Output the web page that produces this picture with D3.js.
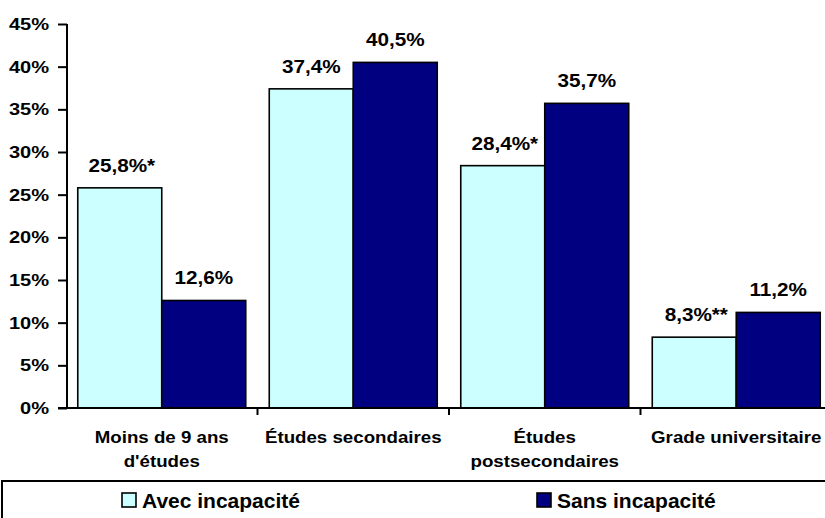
<!DOCTYPE html>
<html><head><meta charset="utf-8">
<script src="https://cdn.jsdelivr.net/npm/d3@7"></script>
<style>html,body{margin:0;padding:0;background:#fff;overflow:hidden}</style>
</head><body>
<svg id="c" width="825" height="518"></svg>
<script>
const categories = [["Moins de 9 ans","d'études"],["Études secondaires"],["Études","postsecondaires"],["Grade universitaire"]];
const seriesNames = ["Avec incapacité","Sans incapacité"];
const avecValues = [25.8, 37.4, 28.4, 8.3];
const sansValues = [12.6, 40.5, 35.7, 11.2];
const avecLabels = ["25,8%*","37,4%","28,4%*","8,3%**"];
const sansLabels = ["12,6%","40,5%","35,7%","11,2%"];
const yTicks = [0,5,10,15,20,25,30,35,40,45];
const colors = ["#CCFFFF","#000080"];

(function(){
const svg = d3.select("#c");
const FONT = "'Liberation Sans', Arial, sans-serif";
const pLeft = 67, pRight = 832, pTop = 24, pBottom = 408;
const catKeys = categories.map((c,i)=>i);
const x0 = d3.scaleBand().domain(catKeys).range([pLeft-1,pRight]).paddingInner(0).paddingOuter(0);
const x1 = d3.scaleBand().domain([0,1]).range([0,x0.bandwidth()]).paddingInner(0).paddingOuter(0.14);
const y = d3.scaleLinear().domain([0,45]).range([pBottom,pTop]);

function stext(parent, x, yy, str, size, sx, anchor){
  const g = parent.append("g").attr("transform",`translate(${x},${yy}) scale(${sx},1)`);
  return g.append("text").attr("x",0).attr("y",0).attr("text-anchor",anchor||"middle")
    .attr("font-family",FONT).attr("font-weight","bold").attr("font-size",size).attr("fill","#000").text(str);
}

const values = [avecValues, sansValues];
const labels = [avecLabels, sansLabels];
values.forEach((vals, s) => {
  vals.forEach((v, i) => {
    svg.append("rect")
      .attr("x", x0(i) + x1(s)).attr("y", y(v))
      .attr("width", x1.bandwidth()).attr("height", y(0) - y(v))
      .attr("fill", colors[s]).attr("stroke","#000").attr("stroke-width",1.6);
    stext(svg, x0(i) + x1(s) + x1.bandwidth()/2 + (labels[s][i].endsWith("*")? 2:0), y(v) - 16, labels[s][i], 18, 1.15);
  });
});

const yAxis = d3.axisLeft(y).tickValues(yTicks).tickSize(9).tickFormat("");
const yg = svg.append("g").attr("transform",`translate(${pLeft},0)`).call(yAxis);
yg.select(".domain").attr("stroke","#000").attr("stroke-width",2).attr("d",`M0,${pTop}V${pBottom}`);
yg.selectAll(".tick line").attr("stroke","#000").attr("stroke-width",2);
yTicks.forEach(t => {
  stext(svg, 49, y(t) + 6, t + "%", 17, 1.18, "end");
});

const xg = svg.append("g");
xg.append("line").attr("x1",pLeft-9).attr("x2",825).attr("y1",pBottom).attr("y2",pBottom).attr("stroke","#000").attr("stroke-width",2);
catKeys.slice(1).forEach(i => {
  xg.append("line").attr("x1",x0(i)).attr("x2",x0(i)).attr("y1",pBottom).attr("y2",pBottom+7).attr("stroke","#000").attr("stroke-width",2);
});
categories.forEach((lines, i) => {
  lines.forEach((ln, k) => {
    stext(svg, x0(i) + x0.bandwidth()/2, 443 + k*24, ln, 17, 1.1);
  });
});

svg.append("rect").attr("x",2).attr("y",481).attr("width",840).attr("height",50).attr("fill","none").attr("stroke","#000").attr("stroke-width",2);
const legX = [122, 537];
seriesNames.forEach((n, s) => {
  svg.append("rect").attr("x",legX[s]).attr("y",493).attr("width",14).attr("height",14)
    .attr("fill",colors[s]).attr("stroke","#000").attr("stroke-width",1.6);
  stext(svg, legX[s] + 20, 508, n, 21, 1.0, "start");
});
})();
</script>
</body></html>
